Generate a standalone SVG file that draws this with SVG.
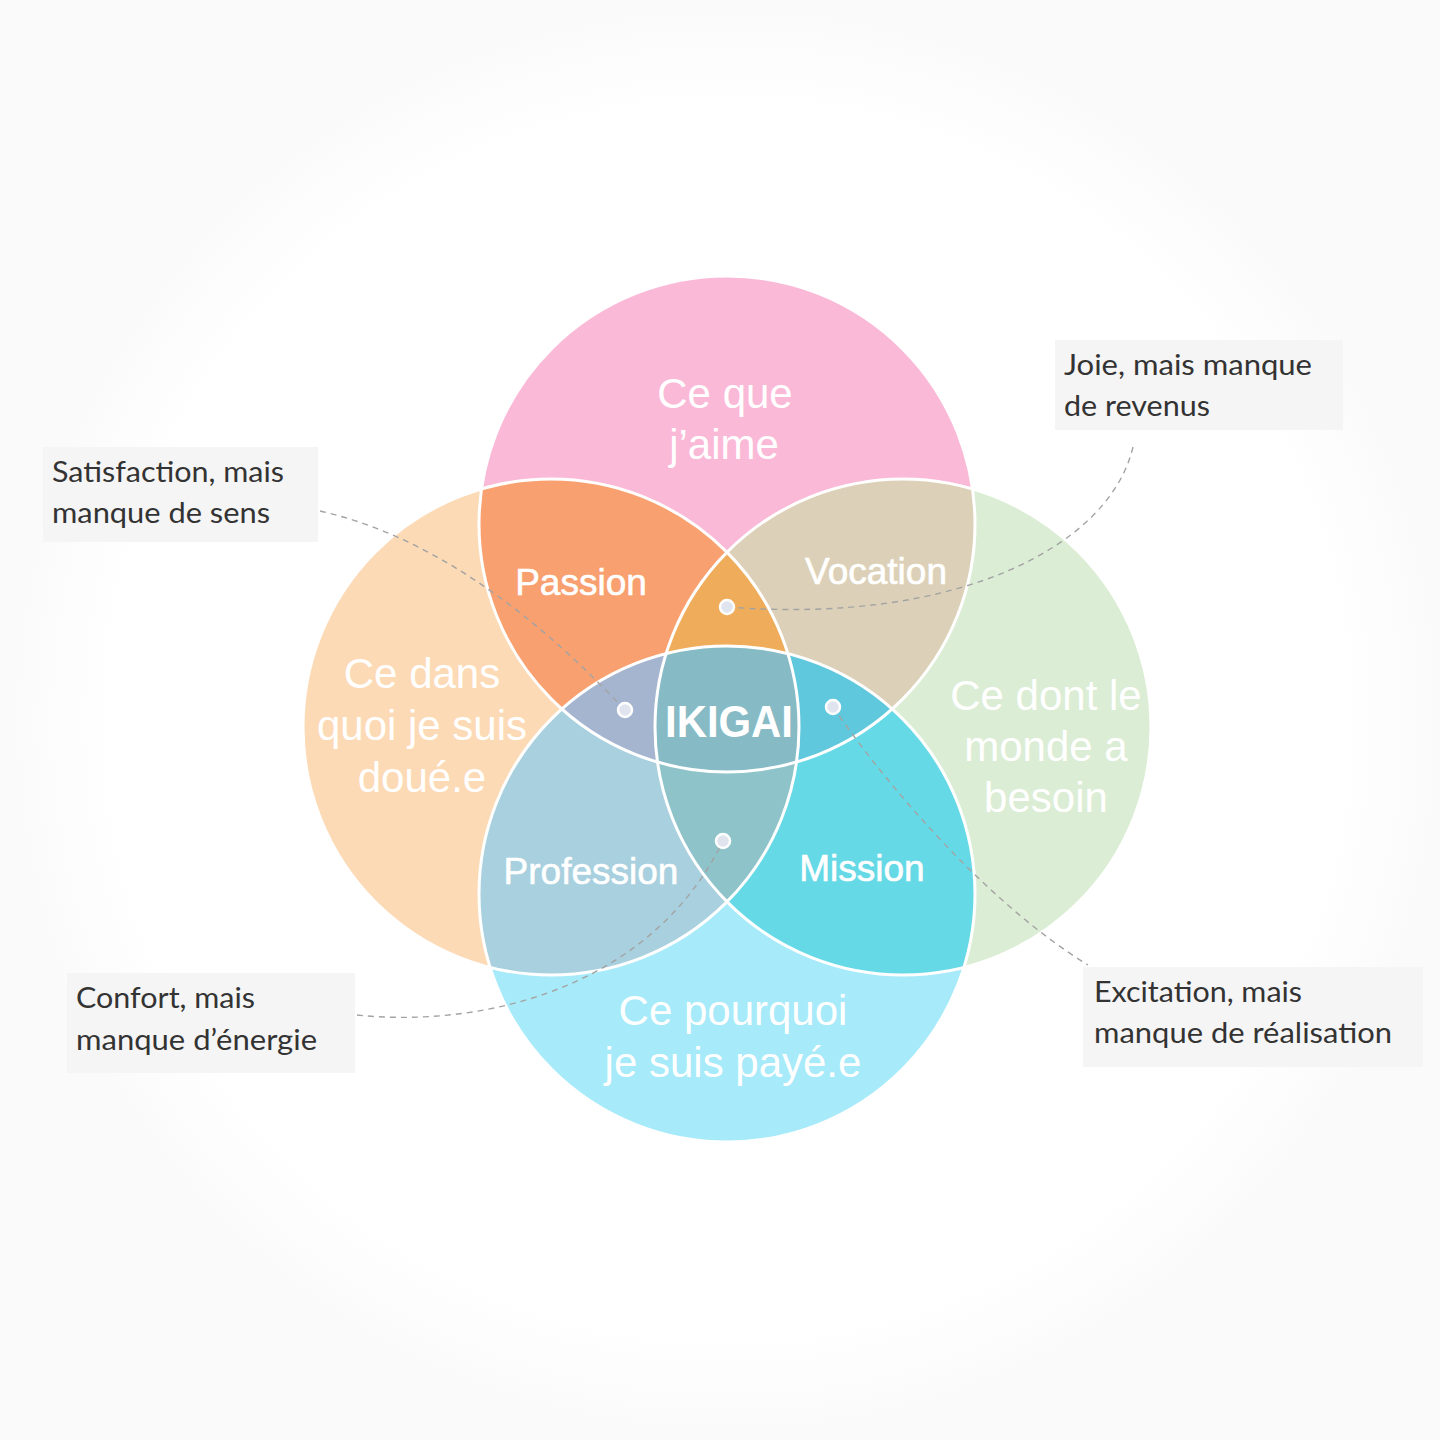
<svg xmlns="http://www.w3.org/2000/svg" width="1440" height="1440" viewBox="0 0 1440 1440">
<defs>
<radialGradient id="bg" cx="727" cy="720" r="720" gradientUnits="userSpaceOnUse">
<stop offset="0.85" stop-color="#ffffff"/>
<stop offset="1" stop-color="#fafafa"/>
</radialGradient>
<clipPath id="cT"><circle cx="727" cy="524" r="248"/></clipPath>
<clipPath id="cB"><circle cx="727" cy="894" r="248"/></clipPath>
<clipPath id="cL"><circle cx="551" cy="727" r="248"/></clipPath>
<clipPath id="cR"><circle cx="903" cy="727" r="248"/></clipPath>
<style>
.big{font-family:"Liberation Sans",Arial,sans-serif;font-size:42px;fill:#ffffff;text-anchor:middle}
.mid{font-family:"Liberation Sans",Arial,sans-serif;font-size:37px;fill:#ffffff;text-anchor:middle;stroke:#ffffff;stroke-width:0.6}
.call{font-family:Lato,"Open Sans",sans-serif;font-size:28px;fill:#333333}
.box{fill:#f5f5f5}
.edge{fill:none;stroke:#ffffff;stroke-width:3}
.dash{fill:none;stroke:#a3a3a3;stroke-width:1.4;stroke-dasharray:6 5}
.dot{fill:#dfe4ee;stroke:#ffffff;stroke-width:2.5}
</style>
</defs>
<rect x="0" y="0" width="1440" height="1440" fill="url(#bg)"/>

<g id="circles">
<circle id="love" cx="727" cy="524" r="248" fill="#fbb9d8"/>
<circle id="goodat" cx="551" cy="727" r="248" fill="#fcdab6"/>
<circle id="needs" cx="903" cy="727" r="248" fill="#dcedd5"/>
<circle id="paid" cx="727" cy="894" r="248" fill="#a7eaf9"/>
</g>

<g id="passion-region" clip-path="url(#cT)"><circle cx="551" cy="727" r="248" fill="#f9a070"/></g>
<g id="vocation-region" clip-path="url(#cT)"><circle cx="903" cy="727" r="248" fill="#dcd1b8"/></g>
<g id="profession-region" clip-path="url(#cB)"><circle cx="551" cy="727" r="248" fill="#a8d0de"/></g>
<g id="mission-region" clip-path="url(#cB)"><circle cx="903" cy="727" r="248" fill="#66d9e6"/></g>

<g id="triple-top" clip-path="url(#cT)"><g clip-path="url(#cL)"><circle cx="903" cy="727" r="248" fill="#efad5c"/></g></g>
<g id="triple-left" clip-path="url(#cT)"><g clip-path="url(#cL)"><circle cx="727" cy="894" r="248" fill="#a5b5cf"/></g></g>
<g id="triple-right" clip-path="url(#cT)"><g clip-path="url(#cR)"><circle cx="727" cy="894" r="248" fill="#5fc8dc"/></g></g>
<g id="triple-bottom" clip-path="url(#cB)"><g clip-path="url(#cL)"><circle cx="903" cy="727" r="248" fill="#8dc3c9"/></g></g>
<g id="ikigai-region" clip-path="url(#cT)"><g clip-path="url(#cB)"><g clip-path="url(#cL)"><circle cx="903" cy="727" r="248" fill="#86bac5"/></g></g></g>

<g id="outlines">
<circle class="edge" cx="727" cy="524" r="248"/>
<circle class="edge" cx="551" cy="727" r="248"/>
<circle class="edge" cx="903" cy="727" r="248"/>
<circle class="edge" cx="727" cy="894" r="248"/>
</g>

<g id="labels">
<g id="label-love"><text class="big" x="725" y="408">Ce que</text><text class="big" x="724" y="459">j’aime</text></g>
<g id="label-goodat"><text class="big" x="422" y="688">Ce dans</text><text class="big" x="422" y="740">quoi je suis</text><text class="big" x="422" y="792">doué.e</text></g>
<g id="label-needs"><text class="big" x="1046" y="710">Ce dont le</text><text class="big" x="1046" y="761">monde a</text><text class="big" x="1046" y="812">besoin</text></g>
<g id="label-paid"><text class="big" x="733" y="1025">Ce pourquoi</text><text class="big" x="733" y="1077">je suis payé.e</text></g>
<g id="label-passion"><text class="mid" x="581" y="595">Passion</text></g>
<g id="label-vocation"><text class="mid" x="876" y="584">Vocation</text></g>
<g id="label-profession"><text class="mid" x="591" y="884">Profession</text></g>
<g id="label-mission"><text class="mid" x="862" y="881">Mission</text></g>
<g id="label-ikigai"><text x="729" y="737" font-family="Liberation Sans,Arial,sans-serif" font-weight="bold" font-size="45" fill="#ffffff" text-anchor="middle" textLength="128" lengthAdjust="spacingAndGlyphs">IKIGAI</text></g>
</g>

<g id="connectors">
<path class="dash" d="M320 511 Q 470 545 625 710"/>
<path class="dash" d="M1133 447 C 1110 545, 960 625, 727 607"/>
<path class="dash" d="M357 1015 C 480 1028, 650 990, 723 841"/>
<path class="dash" d="M833 707 C 890 790, 990 905, 1088 965"/>
</g>

<g id="dots">
<circle class="dot" cx="727" cy="607" r="7"/>
<circle class="dot" cx="625" cy="710" r="7"/>
<circle class="dot" cx="833" cy="707" r="7"/>
<circle class="dot" cx="723" cy="841" r="7"/>
</g>

<g id="callout-satisfaction">
<rect class="box" x="43" y="447" width="275" height="95"/>
<text class="call" x="52" y="482" textLength="232" lengthAdjust="spacingAndGlyphs">Satisfaction, mais</text>
<text class="call" x="52" y="523" textLength="218" lengthAdjust="spacingAndGlyphs">manque de sens</text>
</g>
<g id="callout-joie">
<rect class="box" x="1055" y="340" width="288" height="90"/>
<text class="call" x="1064" y="375" textLength="248" lengthAdjust="spacingAndGlyphs">Joie, mais manque</text>
<text class="call" x="1064" y="416" textLength="146" lengthAdjust="spacingAndGlyphs">de revenus</text>
</g>
<g id="callout-confort">
<rect class="box" x="67" y="973" width="288" height="100"/>
<text class="call" x="76" y="1008" textLength="179" lengthAdjust="spacingAndGlyphs">Confort, mais</text>
<text class="call" x="76" y="1050" textLength="241" lengthAdjust="spacingAndGlyphs">manque d’énergie</text>
</g>
<g id="callout-excitation">
<rect class="box" x="1083" y="967" width="340" height="100"/>
<text class="call" x="1094" y="1002" textLength="208" lengthAdjust="spacingAndGlyphs">Excitation, mais</text>
<text class="call" x="1094" y="1043" textLength="298" lengthAdjust="spacingAndGlyphs">manque de réalisation</text>
</g>
</svg>
